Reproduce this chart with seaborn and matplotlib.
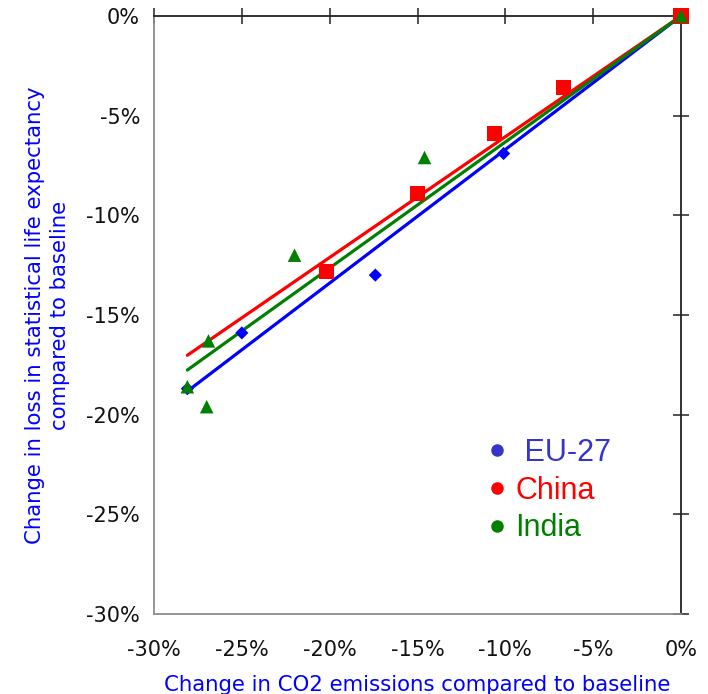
import numpy as np
import pandas as pd
import matplotlib
matplotlib.use('Agg')
import matplotlib.pyplot as plt
import seaborn as sns
from matplotlib.lines import Line2D
from matplotlib.ticker import FuncFormatter, MultipleLocator

## data (percent change vs baseline)
eu_x = [0.0, -10.1, -17.4, -25.0, -28.1]
eu_y = [0.0, -6.9, -13.0, -15.9, -18.7]

china_x = [0.0, -6.7, -10.6, -15.0, -20.2]
china_y = [0.0, -3.6, -5.9, -8.9, -12.8]

india_x = [0.0, -14.6, -22.0, -26.9, -28.1, -27.0]
india_y = [0.0, -7.1, -12.0, -16.3, -18.6, -19.6]

regions = ['EU-27', 'China', 'India']
colors = {'EU-27': '#0000FF', 'China': '#FF0000', 'India': '#008000'}
label_colors = {'EU-27': '#3535CC', 'China': '#FF0000', 'India': '#008000'}
markers = {'EU-27': 'D', 'China': 's', 'India': '^'}
sizes = {'EU-27': 45, 'China': 120, 'India': 95}

series = {
    'EU-27': (eu_x, eu_y),
    'China': (china_x, china_y),
    'India': (india_x, india_y),
}

sns.set_theme(style='white')
plt.rcParams['font.family'] = ['DejaVu Sans']

fig = plt.figure(figsize=(7.08, 6.94), dpi=100)
ax = fig.add_axes([0.2175, 0.1153, 0.7444, 0.8617])

# trend lines forced through the origin, over the full emission range
x_min = min(min(v[0]) for v in series.values())
line_x = np.array([x_min, 0.0])
for name in regions:
    xs, ys = np.array(series[name][0]), np.array(series[name][1])
    slope = (xs * ys).sum() / (xs * xs).sum()
    sns.lineplot(x=line_x, y=slope * line_x, color=colors[name],
                 linewidth=2.3, ax=ax, zorder=2)

for name in regions:
    xs, ys = series[name]
    sns.scatterplot(x=xs, y=ys, marker=markers[name], color=colors[name],
                    s=sizes[name], edgecolor='none', ax=ax, zorder=3, clip_on=False)

ax.set_xlim(-30, 0)
ax.set_ylim(-30, 0)
ax.xaxis.set_major_locator(MultipleLocator(5))
ax.yaxis.set_major_locator(MultipleLocator(5))
pct = FuncFormatter(lambda v, p: f'{v:.0f}%' if round(v) != 0 else '0%')
ax.xaxis.set_major_formatter(pct)
ax.yaxis.set_major_formatter(pct)

for side in ['left', 'bottom']:
    ax.spines[side].set_color('#8c8c8c')
    ax.spines[side].set_linewidth(1.3)
for side in ['top', 'right']:
    ax.spines[side].set_color('#222222')
    ax.spines[side].set_linewidth(1.3)

ax.tick_params(axis='x', bottom=False, top=True, labelbottom=True, labeltop=False,
               direction='inout', length=11, width=1.1, color='#222222',
               labelsize=15, pad=13.5, labelcolor='#111111')
ax.tick_params(axis='y', left=False, right=True, labelleft=True, labelright=False,
               direction='inout', length=11, width=1.1, color='#222222',
               labelsize=15, pad=4.5, labelcolor='#111111')

ax.set_xlabel('Change in CO2 emissions compared to baseline', color='#0000FF',
              fontsize=15.3)
ax.xaxis.set_label_coords(0.5, -0.102)
ax.set_ylabel('Change in loss in statistical life expectancy\ncompared to baseline',
              color='#0000FF', fontsize=15.3, linespacing=1.3)
ax.yaxis.set_label_coords(-0.16, 0.5)

handles = [Line2D([], [], marker='o', linestyle='none', markersize=8,
                  color=colors[n] if n != 'EU-27' else label_colors[n]) for n in regions]
leg = ax.legend(handles, [' EU-27', 'China', 'India'], loc='upper left',
                bbox_to_anchor=(0.57, 0.34), frameon=False, handletextpad=0.1,
                handlelength=1.0, labelspacing=0.25,
                prop={'family': 'Liberation Sans', 'size': 22})
for txt, n in zip(leg.get_texts(), regions):
    txt.set_color(label_colors[n])

fig.savefig('out.png', dpi=100)
